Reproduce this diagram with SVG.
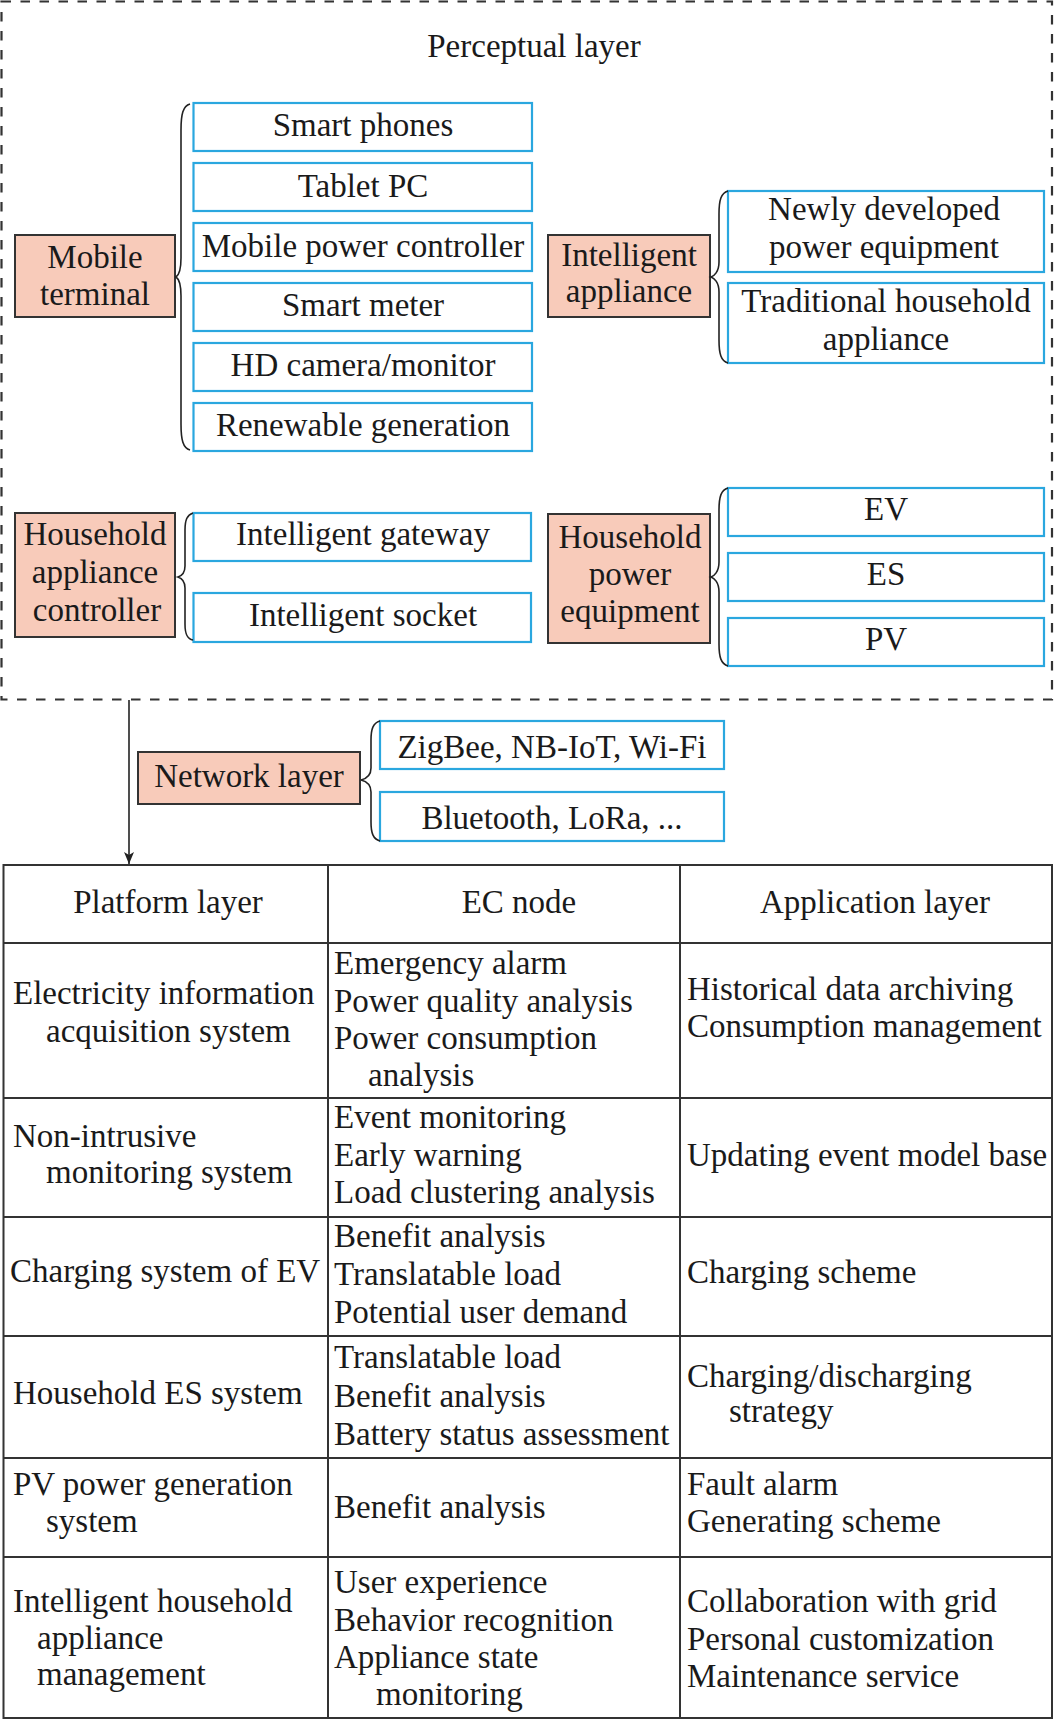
<svg xmlns="http://www.w3.org/2000/svg" width="1054" height="1723" viewBox="0 0 1054 1723">
<defs>
<style>
text{font-family:"Liberation Serif","Times New Roman",serif;font-size:33px;fill:#1a1a1a}
.c{text-anchor:middle}
.leaf{fill:#fff;stroke:#2aa7df;stroke-width:2.2}
.cat{fill:#f8cbba;stroke:#333;stroke-width:2}
.br{fill:none;stroke:#222;stroke-width:1.6}
.tl{stroke:#333;stroke-width:2;fill:none}
</style>
<marker id="ah" markerWidth="12" markerHeight="10" refX="12" refY="5" orient="auto" markerUnits="userSpaceOnUse" viewBox="0 0 12 10">
<path d="M0,0 L12,5 L0,10 L3,5 Z" fill="#222"/>
</marker>
</defs>
<rect x="0" y="0" width="1054" height="1723" fill="#fff"/>

<g id="perceptual-layer">
<rect x="1.5" y="1.5" width="1050.5" height="698" fill="none" stroke="#333" stroke-width="2.2" stroke-dasharray="9.5,9.5"/>
<text class="c" x="534" y="57">Perceptual layer</text>
</g>

<g id="mobile-terminal">
<rect class="cat" x="15" y="235" width="160" height="82"/>
<text class="c" x="95" y="268">Mobile</text>
<text class="c" x="95" y="305">terminal</text>
</g>
<g id="smart-phones"><rect class="leaf" x="193.5" y="103" width="338.5" height="48"/><text class="c" x="363" y="136">Smart phones</text></g>
<g id="tablet-pc"><rect class="leaf" x="193.5" y="163" width="338.5" height="48"/><text class="c" x="363" y="197">Tablet PC</text></g>
<g id="mobile-power-controller"><rect class="leaf" x="193.5" y="223" width="338.5" height="48"/><text class="c" x="363" y="257">Mobile power controller</text></g>
<g id="smart-meter"><rect class="leaf" x="193.5" y="283" width="338.5" height="48"/><text class="c" x="363" y="316">Smart meter</text></g>
<g id="hd-camera"><rect class="leaf" x="193.5" y="343" width="338.5" height="48"/><text class="c" x="363" y="376">HD camera/monitor</text></g>
<g id="renewable-generation"><rect class="leaf" x="193.5" y="403" width="338.5" height="48"/><text class="c" x="363" y="436">Renewable generation</text></g>

<g id="intelligent-appliance">
<rect class="cat" x="548" y="235" width="162" height="82"/>
<text class="c" x="629" y="266">Intelligent</text>
<text class="c" x="629" y="302">appliance</text>
</g>
<g id="newly-developed"><rect class="leaf" x="728" y="191" width="316" height="81"/><text class="c" x="884" y="220">Newly developed</text><text class="c" x="884" y="258">power equipment</text></g>
<g id="traditional-household"><rect class="leaf" x="728" y="283" width="316" height="80"/><text class="c" x="886" y="312">Traditional household</text><text class="c" x="886" y="350">appliance</text></g>

<g id="household-appliance-controller">
<rect class="cat" x="15" y="513" width="160" height="124"/>
<text class="c" x="95" y="545">Household</text>
<text class="c" x="95" y="583">appliance</text>
<text class="c" x="97" y="621">controller</text>
</g>
<g id="intelligent-gateway"><rect class="leaf" x="193.5" y="513" width="337.5" height="48"/><text class="c" x="363" y="545">Intelligent gateway</text></g>
<g id="intelligent-socket"><rect class="leaf" x="193.5" y="593" width="337.5" height="49"/><text class="c" x="363" y="626">Intelligent socket</text></g>

<g id="household-power-equipment">
<rect class="cat" x="548" y="514" width="162" height="129"/>
<text class="c" x="630" y="548">Household</text>
<text class="c" x="630" y="585">power</text>
<text class="c" x="630" y="622">equipment</text>
</g>
<g id="ev"><rect class="leaf" x="728" y="488" width="316" height="48"/><text class="c" x="886" y="520">EV</text></g>
<g id="es"><rect class="leaf" x="728" y="553" width="316" height="48"/><text class="c" x="886" y="585">ES</text></g>
<g id="pv"><rect class="leaf" x="728" y="618" width="316" height="48"/><text class="c" x="886" y="650">PV</text></g>

<g id="network-layer">
<rect class="cat" x="138" y="752" width="222" height="52"/>
<text class="c" x="249" y="787">Network layer</text>
</g>
<g id="zigbee"><rect class="leaf" x="380" y="721" width="344" height="48"/><text class="c" x="552" y="758">ZigBee, NB-IoT, Wi-Fi</text></g>
<g id="bluetooth"><rect class="leaf" x="380" y="792" width="344" height="49"/><text class="c" x="552" y="829">Bluetooth, LoRa, ...</text></g>

<g id="connectors">
<path class="br" d="M190,104 C183,106 181,114 181,130 L181,258 C181,271 179,275 176,277 C179,279 181,283 181,296 L181,424 C181,440 183,448 190,450"/>
<path class="br" d="M728,191 C721,193 719,200 719,214 L719,262 C719,272 714,276 711,277 C714,278 719,282 719,292 L719,340 C719,354 721,361 728,363"/>
<path class="br" d="M193,513 C187,515 185,520 185,530 L185,566 C185,573 181,576 178,577 C181,578 185,581 185,588 L185,624 C185,634 187,639 193,640"/>
<path class="br" d="M728,488 C721,490 719,497 719,510 L719,562 C719,572 714,576 711,577 C714,578 719,582 719,592 L719,644 C719,657 721,664 728,666"/>
<path class="br" d="M380,721 C373,723 371,729 371,740 L371,768 C371,776 365,779 361,780 C365,781 371,784 371,792 L371,822 C371,833 373,839 380,841"/>
<line x1="129" y1="700" x2="129" y2="864" stroke="#222" stroke-width="1.6" marker-end="url(#ah)"/>
</g>

<g id="table">
<rect class="tl" x="3.5" y="865" width="1048.5" height="853"/>
<line class="tl" x1="328" y1="865" x2="328" y2="1718"/>
<line class="tl" x1="680" y1="865" x2="680" y2="1718"/>
<line class="tl" x1="3.5" y1="943" x2="1052" y2="943"/>
<line class="tl" x1="3.5" y1="1098" x2="1052" y2="1098"/>
<line class="tl" x1="3.5" y1="1217" x2="1052" y2="1217"/>
<line class="tl" x1="3.5" y1="1336" x2="1052" y2="1336"/>
<line class="tl" x1="3.5" y1="1458" x2="1052" y2="1458"/>
<line class="tl" x1="3.5" y1="1557" x2="1052" y2="1557"/>

<text class="c" x="168" y="913">Platform layer</text>
<text class="c" x="519" y="913">EC node</text>
<text class="c" x="875" y="913">Application layer</text>

<text x="13" y="1004">Electricity information</text>
<text x="46" y="1042">acquisition system</text>
<text x="334" y="974">Emergency alarm</text>
<text x="334" y="1012">Power quality analysis</text>
<text x="334" y="1049">Power consumption</text>
<text x="368" y="1086">analysis</text>
<text x="687" y="1000">Historical data archiving</text>
<text x="687" y="1037">Consumption management</text>

<text x="13" y="1147">Non-intrusive</text>
<text x="46" y="1183">monitoring system</text>
<text x="334" y="1128">Event monitoring</text>
<text x="334" y="1166">Early warning</text>
<text x="334" y="1203">Load clustering analysis</text>
<text x="687" y="1166">Updating event model base</text>

<text x="10" y="1282">Charging system of EV</text>
<text x="334" y="1247">Benefit analysis</text>
<text x="334" y="1285">Translatable load</text>
<text x="334" y="1323">Potential user demand</text>
<text x="687" y="1283">Charging scheme</text>

<text x="13" y="1404">Household ES system</text>
<text x="334" y="1368">Translatable load</text>
<text x="334" y="1407">Benefit analysis</text>
<text x="334" y="1445">Battery status assessment</text>
<text x="687" y="1387">Charging/discharging</text>
<text x="729" y="1422">strategy</text>

<text x="13" y="1495">PV power generation</text>
<text x="46" y="1532">system</text>
<text x="334" y="1518">Benefit analysis</text>
<text x="687" y="1495">Fault alarm</text>
<text x="687" y="1532">Generating scheme</text>

<text x="13" y="1612">Intelligent household</text>
<text x="37" y="1649">appliance</text>
<text x="37" y="1685">management</text>
<text x="334" y="1593">User experience</text>
<text x="334" y="1631">Behavior recognition</text>
<text x="334" y="1668">Appliance state</text>
<text x="376" y="1705">monitoring</text>
<text x="687" y="1612">Collaboration with grid</text>
<text x="687" y="1650">Personal customization</text>
<text x="687" y="1687">Maintenance service</text>
</g>
</svg>
